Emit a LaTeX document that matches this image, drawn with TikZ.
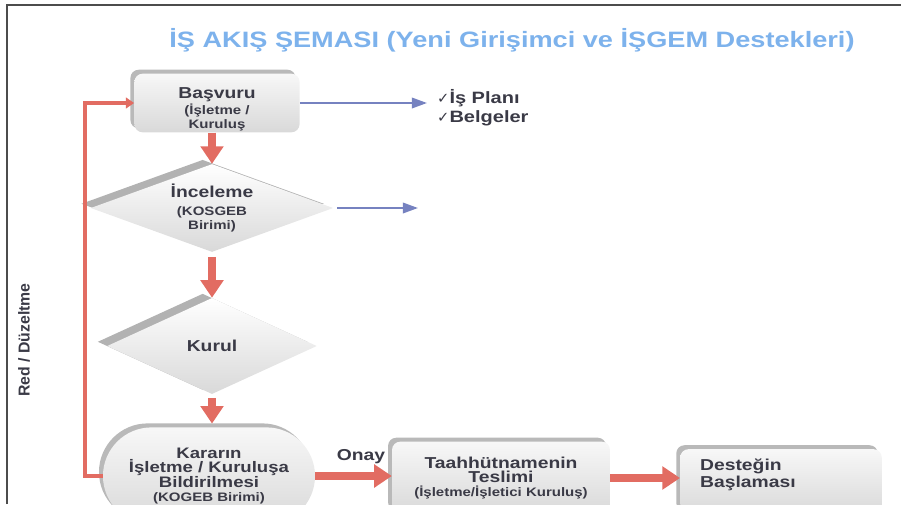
\documentclass[tikz,border=0pt]{standalone}
\usepackage{fontspec}
\setmainfont{Liberation Sans}
\newfontfamily\boxfont[FakeStretch=1.22]{Liberation Sans}
\newfontfamily\symfont{DejaVu Sans}
\usetikzlibrary{arrows.meta,shapes.geometric,shapes.misc,shadows}
\definecolor{titleblue}{RGB}{125,178,236}
\definecolor{flowred}{RGB}{226,108,98}
\definecolor{infoblue}{RGB}{118,130,192}
\definecolor{textgray}{RGB}{58,58,70}
\newcommand\subtxt[1]{{\fontsize{10.5}{10.5}\selectfont #1}}
\newcommand\tick{{\normalfont\symfont\fontsize{12.5}{12}\selectfont ✓}}
\begin{document}
\begin{tikzpicture}[x=0.03cm,y=-0.03cm]
  % Define styles for boxes, diamonds and arrows
  \tikzset{
    box node/.style={rectangle, rounded corners=7pt, top color=gray!6, bottom color=gray!30,
      text=textgray, font=\boxfont\bfseries\fontsize{13.5}{12}\selectfont, align=center, inner sep=0pt,
      copy shadow={shadow xshift=-3.4pt, shadow yshift=3.4pt, fill=gray!55, draw=none}},
    decision node/.style={diamond, top color=white, bottom color=gray!30,
      text=textgray, font=\boxfont\bfseries\fontsize{13.5}{12}\selectfont, align=center, inner sep=0pt, aspect=2.5,
      copy shadow={shadow xshift=-8pt, shadow yshift=3.6pt, fill=gray!60, draw=none}},
    stadium node/.style={rounded rectangle, top color=gray!6, bottom color=gray!30,
      text=textgray, font=\boxfont\bfseries\fontsize{13}{12}\selectfont, align=center, inner sep=0pt,
      copy shadow={shadow xshift=-3.4pt, shadow yshift=3.4pt, fill=gray!55, draw=none}},
    text node/.style={text=textgray, font=\boxfont\bfseries\fontsize{14}{16}\selectfont, inner sep=0pt},
    flow arrow/.style={draw=flowred, line width=6.5pt, -{Triangle[width=19pt,length=15pt]}},
    back line/.style={draw=flowred, line width=2.6pt, -{Triangle[width=9pt,length=7pt]}},
    info arrow/.style={draw=infoblue, line width=1.8pt, -{Triangle[width=9pt,length=13pt]}}
  }
  \useasboundingbox (0,0) rectangle (901,504);
  \clip (0,0) rectangle (901,504);
  \draw[gray!60!black, line width=1.2pt] (7,504) -- (7,5) -- (901,5);

  % Title
  \node[font=\boxfont\bfseries\fontsize{19}{22}\selectfont, text=titleblue] (title) at (512,40)
    {İŞ AKIŞ ŞEMASI (Yeni Girişimci ve İŞGEM Destekleri)};

  % Main column
  \node[box node, minimum width=141pt, minimum height=50pt, text height=45pt] (basvuru) at (217,103)
    {Başvuru\\[1pt] \subtxt{(İşletme /}\\ \subtxt{Kuruluş}};
  \node[decision node, minimum width=207pt, minimum height=75pt] (inceleme) at (212,208)
    {İnceleme\\[3pt] \subtxt{(KOSGEB}\\ \subtxt{Birimi)}};
  \node[decision node, minimum width=179pt, minimum height=82pt] (kurul) at (212,346) {Kurul};
  \node[stadium node, minimum width=181pt, minimum height=83pt] (karar) at (209,476)
    {Kararın\\ İşletme / Kuruluşa\\ Bildirilmesi\\ \subtxt{(KOGEB Birimi)}};

  % Bottom row
  \node[box node, minimum width=186pt, minimum height=62pt] (teslim) at (501,478)
    {Taahhütnamenin\\ Teslimi\\ \subtxt{(İşletme/İşletici Kuruluş)}};
  \node[box node, minimum width=172pt, minimum height=56pt, align=left, text width=138pt, text depth=30pt] (destek) at (781,482)
    {Desteğin\\[1pt] Başlaması};

  % Side texts
  \node[text node, anchor=west, align=left] (liste) at (437,108)
    {\tick İş Planı\\ \tick Belgeler};
  \node[text node, font=\boxfont\bfseries\fontsize{13.5}{15}\selectfont] (onay) at (361,457) {Onay};
  \node[text node, font=\bfseries\fontsize{13.5}{14}\selectfont, rotate=90] (redlabel) at (24,340) {Red / Düzeltme};
  \coordinate (listin) at (427,103);
  \coordinate (incout) at (418,208);
  \coordinate (redturn) at (85,103);

  % Connectors
  \draw[flow arrow] (basvuru.south -| inceleme.north) -- (inceleme.north);
  \draw[flow arrow, shorten <=4pt] (inceleme.south) -- (kurul.north);
  \draw[flow arrow, shorten <=3pt] (kurul.south) -- ([yshift=3pt]kurul.south |- karar.north);
  \draw[flow arrow] (karar.east) -- (karar.east -| teslim.west);
  \draw[flow arrow] (teslim.east) -- (teslim.east -| destek.west);
  \draw[info arrow] (basvuru.east) -- (listin);
  \draw[info arrow, shorten <=3pt] (inceleme.east) -- (incout);
  \draw[back line] (karar.west) -- (karar.west -| redturn) |- (basvuru.west);
\end{tikzpicture}
\end{document}
